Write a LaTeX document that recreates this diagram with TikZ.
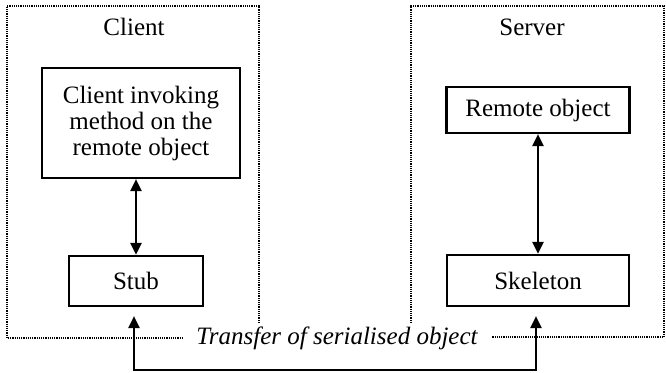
\documentclass[tikz,border=0pt]{standalone}
\usepackage{fontspec}
\setmainfont{Liberation Serif}
\usetikzlibrary{arrows.meta}

\tikzset{
  frame/.style={line width=1.2pt, dash pattern=on 0.6pt off 0.5pt},
  box/.style={draw, line width=1.1pt, align=center, inner sep=0pt},
  label/.style={inner sep=0pt},
  twoway/.style={line width=1.1pt, {Triangle[length=6pt,width=5.5pt]}-{Triangle[length=6pt,width=5.5pt]}}
}

\begin{document}
\begin{tikzpicture}[x=0.5pt, y=-0.5pt, font=\fontsize{12.5}{13}\selectfont]
    \useasboundingbox (0,0) rectangle (666,373);

    % client side
    \draw[frame] (259,323) -- (259,6) -- (7,6) -- (7,338) -- (182,338);
    \node[label] (clientlbl) at (134,27) {Client};
    \node[box, minimum width=99pt, minimum height=55pt] (invoke) at (141,123)
        {Client invoking\\method on the\\remote object};
    \node[box, minimum width=67pt, minimum height=25pt] (stub) at (136,281) {Stub};
    \draw[twoway] (stub.north |- invoke.south) -- (stub.north);

    % server side
    \draw[frame] (411,323) -- (411,6) -- (664,6) -- (664,337) -- (492,337);
    \node[label] (serverlbl) at (532,27) {Server};
    \node[box, minimum width=91.5pt, minimum height=23pt] (remote) at (538,110) {Remote object};
    \node[box, minimum width=91pt, minimum height=25.5pt] (skeleton) at (538,280.5) {Skeleton};
    \draw[twoway] (remote.south) -- (skeleton.north);

    % transfer between the two
    \node[label, font=\fontsize{12.5}{13}\selectfont\itshape] (transfer) at (337,338) {Transfer of serialised object};
    \coordinate (lowL) at (134,370);
    \coordinate (lowR) at (536,370);
    \draw[twoway, shorten <=4.5pt, shorten >=4.5pt]
        (stub.south -| lowL) -- (lowL) -- (lowR) -- (skeleton.south -| lowR);
\end{tikzpicture}
\end{document}
